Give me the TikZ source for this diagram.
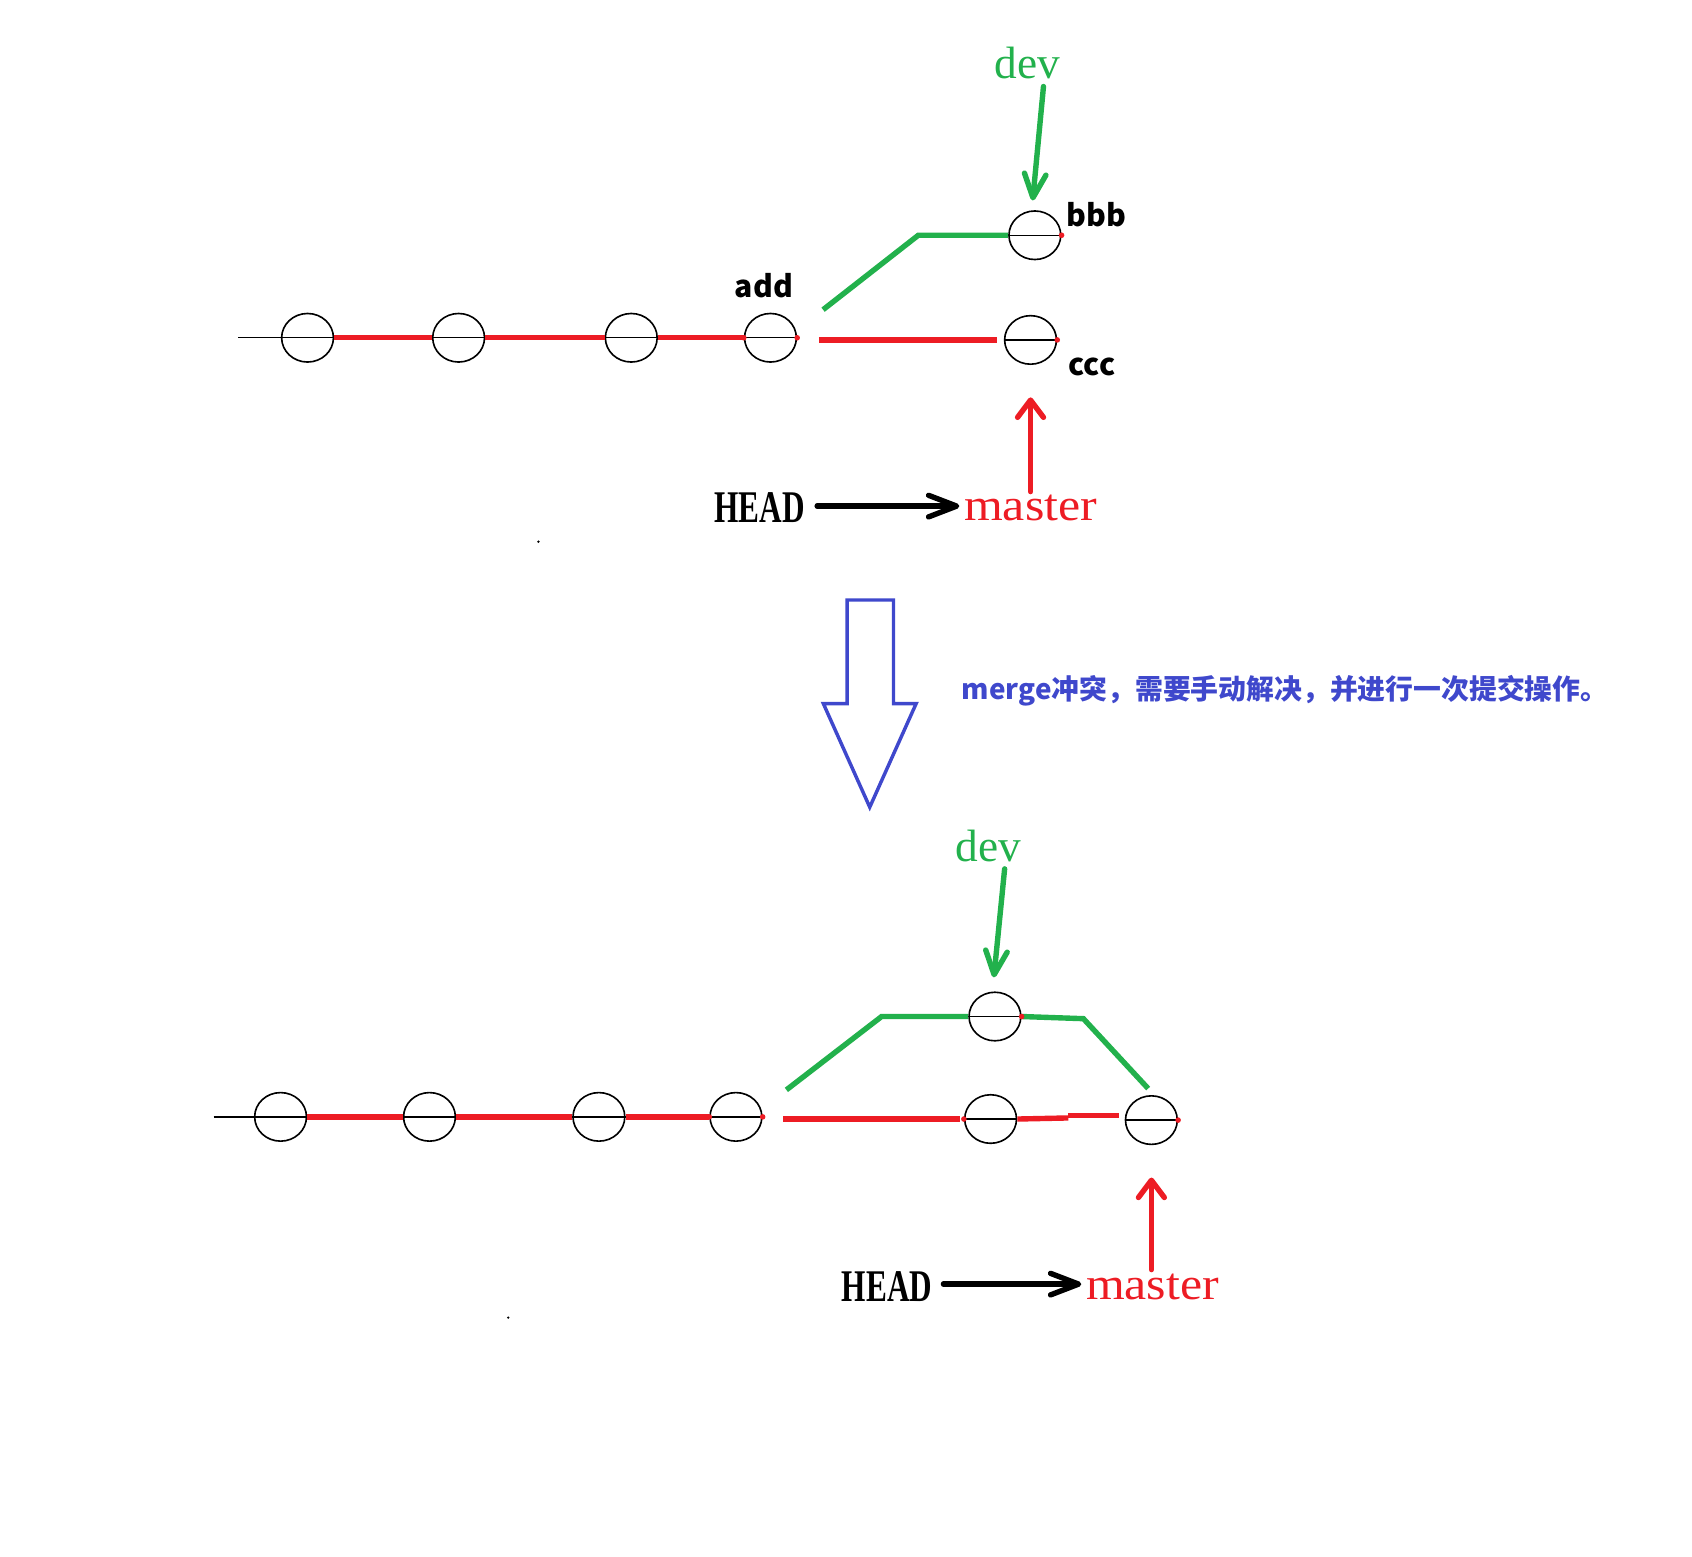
\documentclass[tikz,border=0pt]{standalone}
\usepackage{fontspec}
\usetikzlibrary{shapes.geometric,arrows.meta,calc}
\newfontfamily\lserif{Liberation Serif}
\newfontfamily\headfont[FakeStretch=0.69]{Liberation Serif}
\newfontfamily\masterfont[FakeStretch=1.1]{Liberation Serif}
\newfontfamily\cjk{Noto Sans CJK SC}
\definecolor{pred}{HTML}{ED1C24}
\definecolor{pgreen}{HTML}{22B14C}
\definecolor{pblue}{HTML}{3F48CC}
\begin{document}
\begin{tikzpicture}[x=0.5pt,y=-0.5pt,
  commit/.style={ellipse,draw=black,line width=0.75pt,minimum width=24pt,minimum height=22.5pt,inner sep=0pt},
  redline/.style={draw=pred,line width=2.5pt},
  greenline/.style={draw=pgreen,line width=2.5pt},
  diam/.style={draw=black,line width=0.65pt},
  reddot/.style={fill=pred},
  lbl/.style={inner sep=0pt,font=\cjk\bfseries\fontsize{14pt}{16pt}\selectfont},
  devlbl/.style={inner sep=0pt,text=pgreen,font=\lserif\fontsize{21pt}{24pt}\selectfont},
  headlbl/.style={inner sep=0pt,font=\headfont\bfseries\fontsize{21pt}{24pt}\selectfont},
  masterlbl/.style={inner sep=0pt,text=pred,font=\masterfont\fontsize{21pt}{24pt}\selectfont},
  ptrgreen/.style={draw=pgreen,line width=2.5pt,line cap=round,-{Straight Barb[length=11pt,width=10pt,round]}},
  ptrred/.style={draw=pred,line width=2.5pt,line cap=round,-{Straight Barb[length=8pt,width=12pt,round]}},
  ptrblack/.style={draw=black,line width=2.5pt,line cap=round,-{Straight Barb[length=13pt,width=10pt,round]}},
  bigarrow/.style={draw=pblue,line width=1.6pt,line join=miter}
]
\useasboundingbox (0,0) rectangle (1568,1442);

% ---------------- top diagram ----------------
\node[commit] (c1) at (285,313) {};
\node[commit] (c2) at (425,313) {};
\node[commit] (c3) at (585,313) {};
\node[commit] (c4) at (714,313) {};
\node[commit] (bb) at (959,218) {};
\node[commit] (cc) at (955,315) {};
\coordinate (s1) at (221,313);
\coordinate (gb1) at (851,218);

\draw[diam] (s1) -- (c1.west);
\foreach \n in {c1,c2,c3,c4,bb,cc} \draw[diam] (\n.west) -- (\n.east);
\draw[redline] (c1.east) -- (c2.west);
\draw[redline] (c2.east) -- (c3.west);
\draw[redline] (c3.east) -- (c4.west);
\draw[redline] ($(c4.east)+(20,2)$) -- ($(cc.west)+(-6,0)$);
\draw[greenline] ($(c4.east)+(24,-26)$) -- (gb1) -- (bb.west);
\fill[reddot] (c4.west) circle (1.3pt);
\fill[reddot] (c4.east) circle (1.3pt);
\fill[reddot] (bb.east) circle (1.3pt);
\fill[reddot] (cc.east) circle (1.3pt);

\node[lbl] (add) at (708,265) {add};
\node[lbl] (bbb) at (1016,199) {bbb};
\node[lbl] (ccc) at (1012,340) {ccc};

\node[devlbl] (dev1) at (952,58) {dev};
\node[headlbl] (head1) at (704,470) {HEAD};
\node[masterlbl] (master1) at (955,471) {master};

\draw[ptrgreen] ($(dev1.south)+(15,7)$) -- ($(bb.north)+(-2,-9)$);
\draw[ptrred] ($(master1.north)+(0,-3)$) -- ($(cc.south)+(0,30)$);
\draw[ptrblack] ($(head1.east)+(11,-1)$) -- ($(master1.west)+(-4,-2)$);
\fill (499,502) circle (0.6pt);

% ---------------- big arrow + caption ----------------
\draw[bigarrow] (785,556) -- (828,556) -- (828,652) -- (849,652) -- (806,748) -- (763,652) -- (785,652) -- cycle;
\node[anchor=west,inner sep=0pt,text=pblue,font=\cjk\bfseries\fontsize{12.9pt}{15pt}\selectfont] (cap) at (891,640) {merge冲突，需要手动解决，并进行一次提交操作。};

% ---------------- bottom diagram ----------------
\node[commit] (d1) at (260,1035) {};
\node[commit] (d2) at (398,1035) {};
\node[commit] (d3) at (555,1035) {};
\node[commit] (d4) at (682,1035) {};
\node[commit] (b1) at (922,942) {};
\node[commit] (m1) at (918,1037) {};
\node[commit] (mg) at (1067,1038) {};
\coordinate (s2) at (198,1035);
\coordinate (gb2) at (817,942);
\coordinate (gb3) at (1004,944);
\coordinate (rs) at (990,1036);

\draw[diam] (s2) -- (d1.west);
\foreach \n in {d1,d2,d3,d4,b1,m1,mg} \draw[diam] (\n.west) -- (\n.east);
\draw[redline] (d1.east) -- (d2.west);
\draw[redline] (d2.east) -- (d3.west);
\draw[redline] (d3.east) -- (d4.west);
\draw[redline] ($(d4.east)+(19,2)$) -- ($(m1.west)+(-4,0)$);
\draw[redline] (m1.east) -- (rs);
\draw[redline] ($(rs)+(0,-2)$) -- ($(mg.west)+(-5,-4)$);
\draw[greenline] ($(d4.east)+(22,-25)$) -- (gb2) -- (b1.west);
\draw[greenline] (b1.east) -- (gb3) -- ($(mg.north)+(-3,-6)$);
\fill[reddot] (d4.west) circle (1.3pt);
\fill[reddot] (d4.east) circle (1.3pt);
\fill[reddot] (b1.east) circle (1.3pt);
\fill[reddot] (m1.west) circle (1.3pt);
\fill[reddot] (mg.east) circle (1.3pt);

\node[devlbl] (dev2) at (916,784) {dev};
\node[headlbl] (head2) at (822,1192) {HEAD};
\node[masterlbl] (master2) at (1068,1193) {master};

\draw[ptrgreen] ($(dev2.south)+(15,6)$) -- ($(b1.north)+(-1,-13)$);
\draw[ptrred] ($(master2.north)+(-1,-4)$) -- ($(mg.south)+(0,30)$);
\draw[ptrblack] ($(head2.east)+(10,-2)$) -- ($(master2.west)+(-4,-3)$);
\fill (471,1221) circle (0.6pt);
\end{tikzpicture}
\end{document}
